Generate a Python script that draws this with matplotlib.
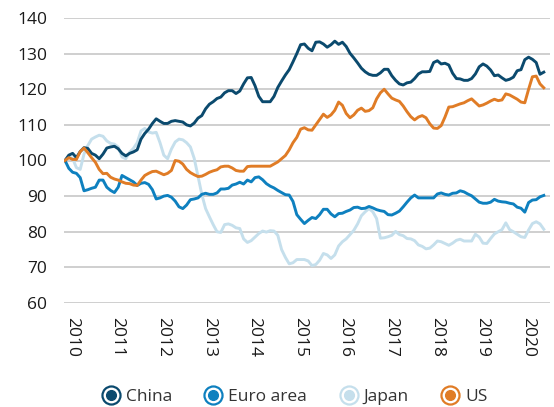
import matplotlib
matplotlib.use("Agg")
import matplotlib.pyplot as plt
from matplotlib.lines import Line2D
from matplotlib.legend_handler import HandlerTuple
from matplotlib.transforms import ScaledTranslation
import numpy as np

plt.rcParams['font.family'] = ['Open Sans', 'DejaVu Sans']

# Monthly index values, Jan 2010 - Jul 2020
start_year = 2010
china = [100, 101.5, 102, 100.8, 102.5, 103.6, 103.4, 102, 101.5, 100.5, 101.8, 103.5,
         103.8, 104, 103.3, 102, 101.3, 102, 102.4, 103, 106, 107.6, 108.8, 110.4,
         111.7, 111, 110.4, 110.4, 111, 111.2, 111, 110.8, 110, 109.7, 110.5, 111.9,
         112.6, 114.5, 115.8, 116.5, 117.4, 117.8, 119, 119.6, 119.6, 118.8, 119.5, 121.5,
         123.2, 123.3, 121, 118, 116.5, 116.5, 116.5, 118, 120.5, 122.3, 124, 125.5,
         127.7, 130, 132.5, 132.7, 131.5, 130.8, 133.2, 133.3, 132.7, 131.8, 132.5, 133.5,
         132.6, 133.2, 132, 130.1, 128.8, 127.4, 125.9, 124.9, 124.2, 123.9, 123.9, 124.6,
         125.6, 125.6, 123.8, 122.5, 121.5, 121.2, 121.8, 122, 123, 124.3, 124.9, 124.9,
         125, 127.5, 128, 127.1, 127.3, 126.8, 124.5, 123, 122.9, 122.5, 122.5, 123,
         124.3, 126.3, 127.1, 126.5, 125.4, 123.8, 124, 123.2, 122.5, 122.8, 123.4, 125.2,
         125.5, 128.3, 129, 128.4, 127.5, 124.2, 124.8]
euro_area = [100, 97.8, 96.7, 96.4, 95.2, 91.5, 91.8, 92.2, 92.5, 94.5, 94.5, 92.5,
             91.6, 91, 92.5, 95.8, 95.2, 94.6, 94, 93, 93.6, 93.8, 93.3, 91.8,
             89.2, 89.5, 90, 90.2, 89.7, 88.6, 87, 86.5, 87.5, 89, 89.2, 89.5,
             90.5, 90.8, 90.5, 90.5, 90.9, 92, 92, 92.2, 93.1, 93.4, 93.9, 93.4,
             94.5, 94, 95.2, 95.4, 94.6, 93.5, 92.8, 92.3, 91.6, 91, 90.4, 90.3,
             88.5, 84.8, 83.5, 82.3, 83.2, 84, 83.7, 84.8, 86.3, 86.3, 85, 84.2,
             85.1, 85.2, 85.7, 86.1, 86.8, 86.9, 86.5, 86.6, 87.1, 86.7, 86.2, 85.9,
             85.7, 84.8, 84.7, 85.2, 85.8, 87, 88.3, 89.5, 90.3, 89.5, 89.5, 89.5,
             89.5, 89.5, 90.6, 90.9, 90.5, 90.3, 90.8, 90.9, 91.5, 91.2, 90.6, 90.1,
             89.2, 88.3, 88, 88, 88.3, 89.1, 88.6, 88.4, 88.3, 88, 87.8, 86.9,
             86.6, 85.5, 88.2, 88.9, 89, 89.8, 90.2]
japan = [100, 101, 100.6, 98, 97.5, 101.8, 104.2, 106, 106.6, 107.1, 106.8, 105.5,
         104.8, 104.6, 103.8, 101, 100.5, 102.3, 103.4, 105, 108.3, 109, 108, 107.7,
         107.9, 105, 101.5, 100.5, 103.2, 105.2, 106, 105.8, 105, 103.8, 100.6, 95.6,
         90.5, 86.5, 84.2, 82, 80, 79.8, 82, 82.2, 81.8, 81.1, 80.9, 78,
         77, 77.5, 78.5, 79.5, 80.2, 79.9, 80.3, 80.2, 79, 75, 72.8, 71,
         71.3, 72.2, 72.2, 72.2, 71.8, 70.5, 70.8, 72, 73.9, 73.5, 72.5, 73.5,
         76, 77.2, 78, 79.2, 80.4, 82.2, 84.5, 85.6, 86.5, 85.6, 83.7, 78.2,
         78.3, 78.6, 79, 80.1, 79.2, 78.9, 78.1, 78, 77.5, 76.3, 75.9, 75.2,
         75.4, 76.3, 77.4, 77.2, 76.7, 76.2, 76.8, 77.6, 77.9, 77.4, 77.4, 77.4,
         79.3, 78.5, 76.8, 76.7, 78.1, 79.4, 80, 80.6, 82.5, 80.6, 80, 79.3,
         78.6, 78.4, 80.5, 82.3, 82.8, 82.2, 80.7]
us = [100, 100.8, 100.3, 100.3, 102.5, 103.5, 102.2, 100.8, 99.5, 97.5, 96.3, 96.4,
      95.3, 94.8, 94.5, 94, 93.6, 93.5, 93.1, 93, 94.5, 95.8, 96.4, 96.9,
      97, 96.5, 96, 96.4, 97.2, 100, 99.8, 99, 97.5, 96.6, 96, 95.5,
      95.6, 96.1, 96.7, 97.1, 97.4, 98.2, 98.4, 98.4, 97.9, 97.2, 97, 97,
      98.3, 98.4, 98.4, 98.4, 98.4, 98.4, 98.4, 99, 99.6, 100.5, 101.4, 103,
      105, 106.5, 108.8, 109.2, 108.6, 108.5, 110, 111.5, 113, 112.1, 112.8, 114.1,
      116.4, 115.5, 113.2, 112, 112.8, 114.1, 114.7, 113.8, 114, 114.8, 117.3, 119,
      120, 118.7, 117.5, 117, 116.6, 115.3, 113.7, 112.3, 111.4, 112.2, 112.6, 112,
      110.3, 109.1, 109, 109.8, 112.2, 115, 115.1, 115.5, 115.9, 116.2, 116.8, 117.3,
      116.3, 115.3, 115.6, 116.1, 116.7, 117.2, 116.8, 117, 118.7, 118.4, 117.8, 117.2,
      116.4, 116.2, 120, 123.5, 123.7, 121.5, 120.4]

series_names = ["China", "Euro area", "Japan", "US"]
colors = {"China": "#0b4a6e", "Euro area": "#0e80bf", "Japan": "#c5dfec", "US": "#e07c26"}
year_ticks = list(range(2010, 2021))
y_ticks = [60, 70, 80, 90, 100, 110, 120, 130, 140]

data = {"China": china, "Euro area": euro_area, "Japan": japan, "US": us}

W, H = 554, 407
fig = plt.figure(figsize=(W / 100, H / 100), dpi=100)
ax = fig.add_axes([64 / W, 1 - 303 / H, (550 - 64) / W, (303 - 18) / H])

n = len(china)
t = start_year + np.arange(n) / 12.0

for name in ["Japan", "Euro area", "China", "US"]:
    ax.plot(t, data[name], color=colors[name], lw=2.1, solid_joinstyle='round', zorder=3)

ax.set_ylim(60, 140)
ax.set_xlim(start_year - 1 / 45.6, start_year + (550 - 65) / 45.6)
ax.set_yticks(y_ticks)
ax.set_xticks(year_ticks)
ax.set_xticklabels([str(y) for y in year_ticks], rotation=-90, ha='center', va='top')
ax.grid(axis='y', color='#cccccc', lw=1.3)
ax.grid(axis='x', visible=False)
for s in ax.spines.values():
    s.set_visible(False)
ax.tick_params(axis='both', length=0, labelsize=12.5, colors='#1a1a1a')
ax.tick_params(axis='y', pad=12)
ax.tick_params(axis='x', pad=10)
off = ScaledTranslation(7 / 100, 0, fig.dpi_scale_trans)
for lab in ax.get_xticklabels():
    lab.set_transform(lab.get_transform() + off)

handles = []
for name in series_names:
    c = colors[name]
    ring = Line2D([], [], marker='o', ms=13, mfc='white', mec=c, mew=1.6, ls='')
    dot = Line2D([], [], marker='o', ms=7, mfc=c, mec=c, ls='')
    handles.append((ring, dot))

leg = fig.legend(handles, series_names, handler_map={tuple: HandlerTuple(ndivide=1, pad=0)},
                 loc='center', bbox_to_anchor=(0.532, 1 - 397 / H), ncol=4, frameon=False,
                 fontsize=12.5, handlelength=1.0, handletextpad=0.35, columnspacing=1.9)
for txt in leg.get_texts():
    txt.set_color('#333333')

fig.savefig("out.png", dpi=100)
